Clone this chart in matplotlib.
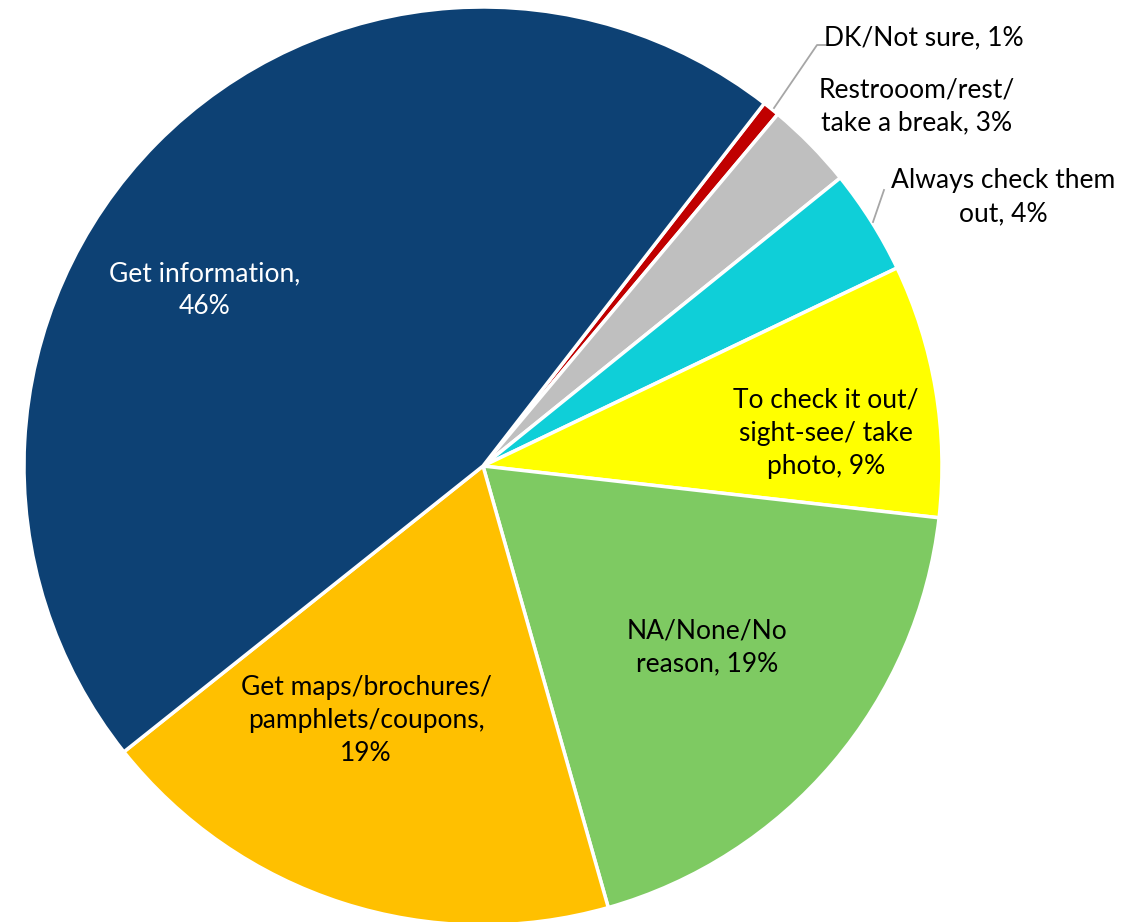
import matplotlib
matplotlib.use("Agg")
import matplotlib.pyplot as plt

categories = ["DK/Not sure", "Restrooom/rest/\ntake a break", "Always check them\nout",
              "To check it out/\nsight-see/ take\nphoto", "NA/None/No\nreason",
              "Get maps/brochures/\npamphlets/coupons,\n", "Get information,\n"]
values = [0.6, 3.1, 3.7, 8.9, 18.8, 18.7, 46.2]
pct_labels = ["1%", "3%", "4%", "9%", "19%", "19%", "46%"]
colors = ["#C00000", "#BFBFBF", "#0FCFD8", "#FFFF00", "#7ECA62", "#FFC000", "#0D4174"]

plt.rcParams['font.family'] = ['Lato', 'DejaVu Sans']

W, H = 1144, 922
fig = plt.figure(figsize=(W / 100, H / 100), dpi=100)
cx, cy, R = 483, 466, 459
ax = fig.add_axes([(cx - R) / W, (H - cy - R) / H, 2 * R / W, 2 * R / H])

wedges, _ = ax.pie(values, colors=colors, startangle=52.2, counterclock=False,
                   radius=1, wedgeprops=dict(edgecolor='white', linewidth=2.5))
ax.set_xlim(-1, 1)
ax.set_ylim(-1, 1)
ax.set_aspect('auto')
ax.axis('off')

def px(x, y):
    return ((x - cx) / R, (cy - y) / R)

fs = 19
pos = [(924, 38), (917, 106), (1003, 197), (826, 433), (707, 647), (366, 720), (205, 290)]
tcol = ["black", "black", "black", "black", "black", "black", "white"]
for i, (cat, p) in enumerate(zip(categories, pct_labels)):
    if cat.endswith("\n"):
        s = cat + p
    else:
        s = cat + ", " + p
    x, y = px(*pos[i])
    ax.text(x, y, s, ha='center', va='center', fontsize=fs, color=tcol[i],
            linespacing=1.4, clip_on=False)

# leader lines
lc = "#A6A6A6"
xs, ys = zip(px(774, 108), px(817, 45), px(830, 45))
ax.plot(xs, ys, color=lc, lw=1.3, clip_on=False)
xs, ys = zip(px(873, 222), px(884, 190))
ax.plot(xs, ys, color=lc, lw=1.3, clip_on=False)

fig.savefig("out.png", dpi=100)
